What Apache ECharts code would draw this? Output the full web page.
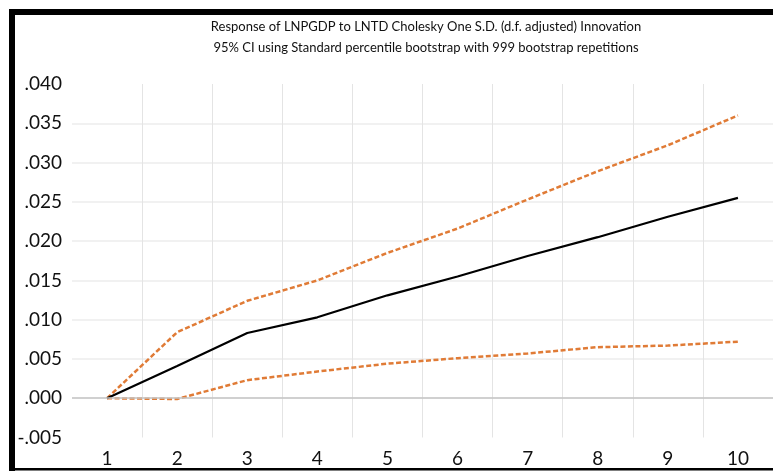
<!DOCTYPE html>
<html>
<head>
<meta charset="utf-8">
<script src="https://cdn.jsdelivr.net/npm/echarts@6/dist/echarts.min.js"></script>
<style>
html,body{margin:0;padding:0;background:#fff;}
#c{width:773px;height:471px;}
</style>
</head>
<body>
<div id="c"></div>
<script>
const categories = ['1','2','3','4','5','6','7','8','9','10'];
const response = [0.0000, 0.0041, 0.0083, 0.0103, 0.0131, 0.0155, 0.0181, 0.0205, 0.0231, 0.0255];
const upperCI  = [0.0000, 0.0084, 0.0124, 0.0150, 0.0185, 0.0216, 0.0253, 0.0289, 0.0322, 0.0360];
const lowerCI  = [0.0000, -0.0001, 0.0023, 0.0034, 0.0044, 0.0051, 0.0057, 0.0065, 0.0067, 0.0072];
const titleLines = ['Response of LNPGDP to LNTD Cholesky One S.D. (d.f. adjusted) Innovation',
                    '95% CI using Standard percentile bootstrap with 999 bootstrap repetitions'];

const font = 'Lato, "Open Sans", sans-serif';
const chart = echarts.init(document.getElementById('c'), null, {renderer:'canvas'});
const orange = '#E07B36';
chart.setOption({
  animation: false,
  backgroundColor: '#fff',
  title: {
    text: titleLines.join('\n'),
    left: 421, top: 11, textAlign: 'center',
    textStyle: {fontFamily: font, fontSize: 13, fontWeight: 'normal', color: '#111', lineHeight: 21}
  },
  grid: {left: 72, right: -4, top: 84, bottom: 33.5, containLabel: false},
  xAxis: {
    type: 'category', data: categories, boundaryGap: true,
    axisLine: {show: false}, axisTick: {show: false},
    axisLabel: {fontFamily: font, fontSize: 19, color: '#111', margin: 12},
    splitLine: {show: true, showMinLine: false, lineStyle: {color: '#e4e4e4', width: 1}}
  },
  yAxis: {
    type: 'value', min: -0.005, max: 0.040, interval: 0.005,
    axisLine: {show: false}, axisTick: {show: false},
    axisLabel: {fontFamily: font, fontSize: 19, color: '#111', margin: 10,
      formatter: v => { const s = Math.abs(v).toFixed(3).replace(/^0/, ''); return (v < -1e-9 ? '-' : '') + s; }},
    splitLine: {show: true, showMinLine: false, showMaxLine: false, lineStyle: {color: '#ececec', width: 1.5}}
  },
  series: [
    {type: 'line', data: upperCI, symbol: 'none', lineStyle: {color: orange, width: 2.5, type: [5, 2.5]}, z: 2,
     markLine: {silent: true, symbol: 'none', label: {show: false}, lineStyle: {color: '#c4c4c4', width: 1.5, type: 'solid'}, data: [{yAxis: 0}]}},
    {type: 'line', data: lowerCI, symbol: 'none', lineStyle: {color: orange, width: 2.5, type: [5, 2.5]}, z: 2},
    {type: 'line', data: response, symbol: 'none', lineStyle: {color: '#000', width: 2.2}, z: 3}
  ],
  graphic: [
    {type: 'rect', shape: {x: 9, y: 9, width: 800, height: 6}, style: {fill: '#000'}, silent: true},
    {type: 'rect', shape: {x: 9, y: 9, width: 6, height: 462}, style: {fill: '#000'}, silent: true},
    {type: 'rect', shape: {x: 9, y: 468, width: 800, height: 2.5}, style: {fill: '#000'}, silent: true}
  ]
});
</script>
</body>
</html>
